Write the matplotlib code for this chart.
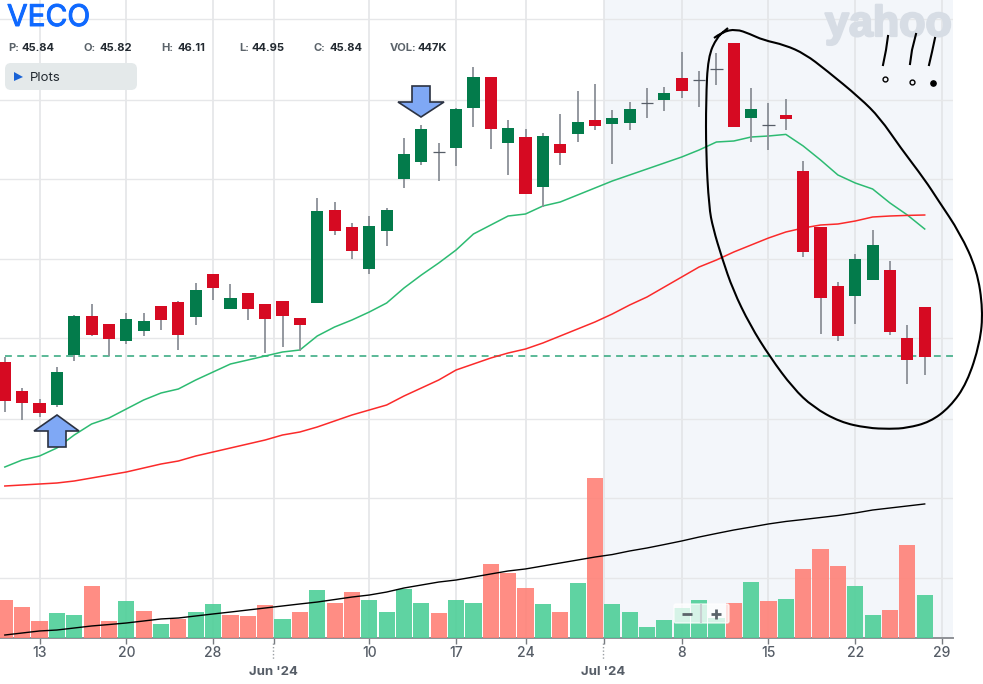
import matplotlib
matplotlib.use('Agg')
import matplotlib.pyplot as plt
import matplotlib.patheffects as pe
from matplotlib.patches import FancyBboxPatch, PathPatch, Polygon, Rectangle
from matplotlib.path import Path
import numpy as np

plt.rcParams['font.family'] = ['Inter', 'DejaVu Sans']

# daily prices, May 9 to Jul 26 2024
opens = [45.59, 44.14, 43.54, 43.44, 45.94, 47.89, 47.49, 46.64, 47.14, 48.39, 48.59, 47.84, 49.99, 48.24,
         49.04, 48.49, 48.64, 47.79, 48.54, 53.19, 52.34, 50.24, 52.14, 54.74, 55.59, 56.07, 56.29, 58.29,
         59.84, 56.54, 56.84, 54.34, 56.49, 56.99, 57.69, 57.49, 57.54, 58.54, 58.69, 59.79, 59.69, 60.24,
         61.54, 57.79, 57.44, 57.94, 55.14, 52.34, 49.39, 48.89, 49.69, 50.19, 46.79, 48.34]
highs = [45.84, 44.29, 43.74, 45.34, 47.94, 48.49, 47.49, 48.04, 48.04, 48.39, 48.64, 49.54, 49.99, 49.49,
         49.04, 48.49, 48.64, 47.79, 53.79, 53.59, 52.54, 52.89, 53.29, 56.79, 57.44, 56.54, 58.29, 60.34,
         59.84, 57.69, 57.24, 57.04, 57.99, 59.14, 59.49, 58.19, 58.59, 59.29, 59.34, 61.09, 60.14, 61.04,
         61.54, 59.29, 58.54, 58.74, 55.64, 52.34, 49.59, 50.99, 52.19, 50.64, 47.44, 48.34]
lows = [43.09, 42.69, 42.84, 43.34, 45.64, 46.89, 45.89, 46.49, 46.89, 47.19, 46.19, 47.44, 48.69, 48.24,
        47.69, 46.04, 46.34, 46.14, 48.54, 51.94, 50.74, 49.99, 51.39, 54.29, 55.44, 54.64, 55.39, 57.34,
        56.24, 54.94, 53.99, 53.34, 55.44, 56.59, 57.19, 55.49, 57.19, 57.79, 58.14, 58.79, 58.34, 59.44,
        57.34, 56.59, 56.19, 57.19, 50.84, 46.99, 46.64, 47.49, 49.69, 46.94, 44.49, 44.94]
closes = [43.64, 43.54, 43.04, 45.09, 47.89, 46.94, 46.74, 47.74, 47.64, 47.69, 46.94, 49.19, 49.29, 48.79,
          48.24, 47.74, 47.89, 47.44, 53.14, 52.14, 51.14, 52.39, 53.19, 55.99, 57.24, 56.07, 58.24, 59.84,
          57.24, 57.29, 53.99, 56.89, 56.04, 57.59, 57.39, 57.79, 58.24, 58.54, 59.04, 59.14, 59.69, 60.24,
          57.34, 58.24, 57.44, 57.74, 51.09, 48.79, 46.89, 50.74, 51.44, 47.09, 45.69, 45.84]
ma_short = [40.34, 40.69, 40.89, 41.29, 41.94, 42.49, 42.79, 43.24, 43.69, 44.04, 44.24, 44.69, 45.09, 45.49,
            45.69, 45.89, 46.09, 46.19, 46.89, 47.34, 47.69, 48.09, 48.54, 49.29, 49.94, 50.54, 51.19, 51.99,
            52.44, 52.89, 52.99, 53.39, 53.59, 53.94, 54.29, 54.64, 54.94, 55.24, 55.54, 55.84, 56.19, 56.59,
            56.64, 56.84, 56.89, 56.97, 56.39, 55.69, 54.94, 54.54, 54.24, 53.54, 52.94, 52.24]
ma_long = [39.39, 39.44, 39.49, 39.54, 39.64, 39.79, 39.94, 40.09, 40.29, 40.49, 40.64, 40.89, 41.09, 41.29,
           41.49, 41.69, 41.94, 42.09, 42.34, 42.64, 42.94, 43.19, 43.44, 43.89, 44.29, 44.69, 45.19, 45.49,
           45.79, 46.04, 46.24, 46.54, 46.89, 47.24, 47.59, 47.99, 48.44, 48.84, 49.34, 49.84, 50.34, 50.69,
           51.09, 51.44, 51.79, 52.09, 52.29, 52.44, 52.49, 52.64, 52.84, 52.89, 52.92, 52.94]

# volume in thousands, 'r' / 'g' is the bar colour
volume = [395, 319, 180, 260, 239, 544, 177, 388, 281, 146, 201, 270, 350, 239,
          229, 340, 201, 270, 499, 364, 475, 395, 270, 510, 361, 257, 395, 361,
          770, 673, 523, 350, 270, 569, 1667, 350, 270, 118, 187, 312, 395, 208,
          361, 579, 385, 406, 718, 922, 749, 544, 236, 291, 967, 447]
vol_dir = 'rrrggrrgrgrggrrrgrgrrggggrggrrrgrgrggggggg' + 'rgrgrrrggrrg'
vol_ma = [31, 52, 73, 83, 104, 125, 140, 156, 177, 198, 208, 229, 250, 270,
          291, 312, 333, 354, 374, 400, 426, 447, 478, 520, 551, 582, 603, 634,
          666, 697, 718, 749, 780, 811, 842, 868, 905, 936, 972, 1009, 1050, 1087,
          1123, 1154, 1186, 1212, 1232, 1253, 1274, 1300, 1331, 1352, 1373, 1394]

day_ticks = [2, 7, 12, 21, 26, 30, 39, 44, 49, 54]
day_labels = ['13', '20', '28', '10', '17', '24', '8', '15', '22', '29']
month_ticks = [15.5, 34.5]
month_labels = ["Jun '24", "Jul '24"]
price_grid = [62.74, 58.69, 54.74, 50.74, 46.79, 42.74, 38.79, 34.79]
prev_close = 45.87

stats = [('P:', '45.84', 8, 22), ('O:', '45.82', 84, 100), ('H:', '46.11', 161, 177),
         ('L:', '44.95', 239, 252), ('C:', '45.84', 313, 329), ('VOL:', '447K', 390, 417)]

# hand drawn stuff, in picture pixels
circle_x = [714, 722, 736, 750, 763, 785, 805, 826, 860, 880, 900, 925, 938, 960, 977, 983, 980, 967, 950,
            930, 907, 890, 867, 840, 813, 793, 770, 750, 733, 722, 713, 709, 706, 706, 708, 717, 728]
circle_y = [38, 32, 29, 34, 40, 45, 54, 70, 98, 118, 147, 180, 200, 233, 270, 310, 343, 383, 407,
            422, 428, 429, 428, 422, 407, 388, 357, 325, 290, 258, 228, 207, 153, 100, 57, 37, 28]

RED = '#d60a22'
GREEN = '#037b4b'

fig = plt.figure(figsize=(9.83, 6.84), dpi=100)
ax = fig.add_axes([0, 46 / 684, 953 / 983, 638 / 684])
ax.set_xlim(-0.277, 54.63)
ax.set_ylim(31.79, 63.69)
ax.set_zorder(1)

x = np.arange(len(closes))
ax.axvspan(34.5, 54.63, color='#f3f6fa', lw=0, zorder=0)

for y in price_grid:
    ax.axhline(y, color='#e6e7e9', lw=1.0, zorder=1)

ax.set_xticks(day_ticks)
ax.set_xticklabels(day_labels, fontsize=10, color='#565d67', fontweight='medium')
ax.set_xticks(month_ticks, minor=True)
ax.set_xticklabels(month_labels, minor=True, fontsize=9.5, color='#565d67', fontweight='bold')
ax.tick_params(axis='x', which='major', length=4, width=1, color='#777b80', pad=1.5)
ax.tick_params(axis='x', which='minor', length=4, width=1, color='#777b80', pad=16)
ax.set_yticks([])
ax.grid(True, axis='x', which='both', color='#e2e3e6', lw=1.1, zorder=1)
ax.set_axisbelow(True)
for s in ['top', 'left', 'right']:
    ax.spines[s].set_visible(False)
ax.spines['bottom'].set_color('#8e9196')
ax.spines['bottom'].set_linewidth(1.4)

# volume panel shares the same box
vax = ax.twinx()
vax.set_ylim(0, 6635)
vax.set_yticks([])
for s in vax.spines.values():
    s.set_visible(False)
vcols = ['#ff8177' if d == 'r' else '#4ecf98' for d in vol_dir]
vax.bar(x, volume, width=0.93, color=vcols, alpha=0.9, zorder=2)
vax.plot(x, vol_ma, color='black', lw=1.0, zorder=3)

# price on top of the volume
pax = ax.twinx()
pax.set_ylim(31.79, 63.69)
pax.set_yticks([])
for s in pax.spines.values():
    s.set_visible(False)
pax.axhline(prev_close, xmin=0.005, color='#2ea67a', lw=1.1, dashes=(4.5, 3.5), zorder=2)
pax.plot(x, ma_short, color='#2dbb72', lw=1.1, zorder=3)
pax.plot(x, ma_long, color='#fb2a2a', lw=1.1, zorder=3)
pax.vlines(x, lows, highs, color='#8b9097', lw=1.3, zorder=4)
for i in x:
    o, c = opens[i], closes[i]
    if o == c:
        pax.hlines(o, i - 0.35, i + 0.35, color='#565d67', lw=0.9, zorder=5)
    else:
        pax.bar(i, abs(c - o), bottom=min(o, c), width=0.7, color=RED if c < o else GREEN, lw=0, zorder=5)

# overlay in pixel coordinates for the page furniture
ov = fig.add_axes([0, 0, 1, 1])
ov.set_xlim(0, 983)
ov.set_ylim(684, 0)
ov.axis('off')
ov.set_zorder(5)

wm = ov.text(825, 25, 'yahoo!', fontsize=31, fontweight='bold', family='Liberation Sans',
             color='#d7dde5', ha='left', va='center', zorder=1, clip_on=True,
             path_effects=[pe.withStroke(linewidth=1.6, foreground='#d7dde5')])
wm.set_clip_path(Rectangle((0, 0), 953, 684, transform=ov.transData))

ov.text(7, 18, 'VECO', fontsize=21.5, color='#0f69ff', ha='left', va='center',
        path_effects=[pe.withStroke(linewidth=0.7, foreground='#0f69ff')])
for lab, val, x0, x1 in stats:
    ov.text(x0, 48, lab, fontsize=8, color='#5b636a', fontweight='bold', va='center')
    ov.text(x1, 48, val, fontsize=8, color='#232a31', fontweight='bold', va='center')

ov.add_patch(FancyBboxPatch((5, 63), 132, 27, boxstyle='round,pad=0,rounding_size=6',
                            fc='#e4e9ea', ec='none', lw=0, zorder=1))
ov.add_patch(Polygon([(14, 72), (23, 77), (14, 81)], fc='#1a63d6', ec='none', zorder=2))
ov.text(30, 78, 'Plots', fontsize=9.5, color='#232a31', va='center', zorder=2)

# arrows
ov.add_patch(Polygon([(57, 415), (79, 431), (66, 431), (66, 447), (48, 447), (48, 431), (34, 431)],
                     fc='#7fa8f5', ec='#2b3242', lw=1.2, joinstyle='miter', zorder=3))
ov.add_patch(Polygon([(421, 117), (444, 102), (430, 102), (430, 86), (412, 86), (412, 102), (398, 102)],
                     fc='#7fa8f5', ec='#2b3242', lw=1.2, joinstyle='miter', zorder=3))

# zoom widget
ov.add_patch(FancyBboxPatch((674, 604), 55, 19, boxstyle='round,pad=0,rounding_size=2', fc='white',
                            ec='white', lw=1, alpha=0.75, zorder=3))
ov.plot([682, 692], [613.5, 613.5], color='#5b636a', lw=2, zorder=4, solid_capstyle='butt')
ov.plot([711, 721], [613.5, 613.5], color='#5b636a', lw=2, zorder=4, solid_capstyle='butt')
ov.plot([716, 716], [608.5, 618.5], color='#5b636a', lw=2, zorder=4, solid_capstyle='butt')
ov.plot([701, 701], [605, 622], color='#c9cfd2', lw=1.5, zorder=4)

# dotted stems under the month ticks
for xp in [273, 603.3]:
    ov.plot([xp, xp], [643, 659], color='#9a9ea3', lw=1, dashes=(1, 1.5), zorder=2)

# the hand drawn circle, quadratic pieces through midpoints so it stays smooth
pts = np.column_stack([circle_x, circle_y])
verts = [pts[0]]
codes = [Path.MOVETO]
for i in range(1, len(pts) - 1):
    verts += [pts[i], (pts[i] + pts[i + 1]) / 2]
    codes += [Path.CURVE3, Path.CURVE3]
verts.append(pts[-1])
codes.append(Path.LINETO)
ov.add_patch(PathPatch(Path(verts, codes), fc='none', ec='black', lw=1.5, zorder=6, clip_on=False))

# !!!
ov.plot([888, 886, 883], [36, 50, 65], color='black', lw=1.5, zorder=6)
ov.plot([916, 912, 910], [34, 50, 64], color='black', lw=1.5, zorder=6)
ov.plot([935, 932, 929], [38, 52, 65], color='black', lw=1.5, zorder=6)
ov.plot([885], [79], 'o', ms=3.5, mfc='none', mec='black', mew=1, zorder=6)
ov.plot([912], [82], 'o', ms=3.5, mfc='none', mec='black', mew=1, zorder=6)
ov.plot([933], [83], 'o', ms=3.8, color='black', zorder=6)

fig.savefig('out.png', dpi=100)
